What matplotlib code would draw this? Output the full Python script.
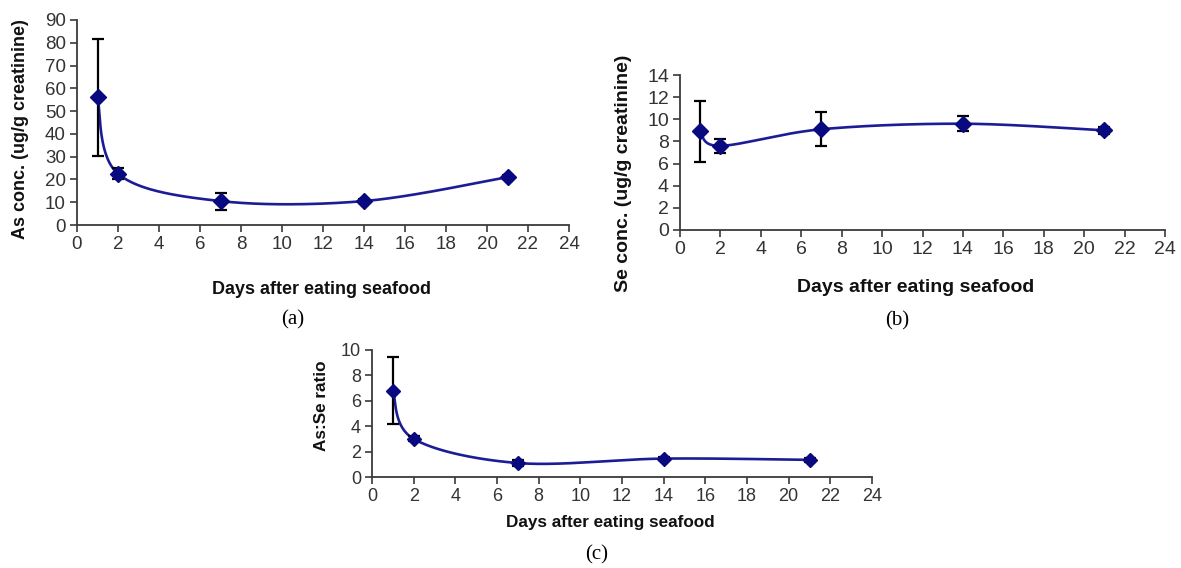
import numpy as np
import matplotlib
matplotlib.use("Agg")
import matplotlib.pyplot as plt

# data
days = [1, 2, 7, 14, 21]

as_conc = [56.0, 22.5, 10.5, 10.5, 21.0]
as_err = [25.5, 2.5, 3.7, 1.0, 1.0]

se_conc = [8.9, 7.6, 9.1, 9.6, 9.0]
se_err = [2.75, 0.6, 1.55, 0.7, 0.3]

ratio = [6.8, 3.0, 1.1, 1.45, 1.35]
ratio_err = [2.65, 0.2, 0.2, 0.15, 0.15]

xticks = list(range(0, 25, 2))

line_col = '#1c1c96'
mark_col = '#0a0a80'
axis_col = '#3a3a3a'
tick_col = '#333333'

W, H = 1181.0, 568.0


def excel_smooth(x, y, n=60):
    # bezier segments like Excel's "smoothed line"
    p = np.column_stack([x, y]).astype(float)
    out = []
    for i in range(len(p) - 1):
        p0 = p[i - 1] if i > 0 else p[i]
        p1 = p[i]
        p2 = p[i + 1]
        p3 = p[i + 2] if i + 2 < len(p) else p[i + 1]
        c1 = p1 + (p2 - p0) / 6.0
        c2 = p2 - (p3 - p1) / 6.0
        t = np.linspace(0, 1, n)[:, None]
        seg = ((1 - t) ** 3) * p1 + 3 * ((1 - t) ** 2) * t * c1 + 3 * (1 - t) * t ** 2 * c2 + t ** 3 * p2
        out.append(seg)
    out = np.vstack(out)
    return out[:, 0], out[:, 1]


def rect(l, r, t, b):
    return [l / W, (H - b) / H, (r - l) / W, (b - t) / H]


def panel(box, y, err, ymax, ystep, ylabel, fs, lfs, ms, xlab_pos, ylab_pos):
    ax = fig.add_axes(rect(*box))
    sx, sy = excel_smooth(days, y)
    ax.plot(sx, sy, color=line_col, lw=1.9, zorder=2)
    ax.errorbar(days, y, yerr=err, fmt='none', ecolor='black', elinewidth=1.6,
                capsize=4.5, capthick=1.6, zorder=3)
    ax.plot(days, y, 'D', color=mark_col, ms=ms, zorder=4)
    ax.set_xlim(0, 24)
    ax.set_ylim(0, ymax)
    ax.set_xticks(xticks)
    ax.set_yticks(np.arange(0, ymax + 0.01, ystep))
    for s in ['top', 'right']:
        ax.spines[s].set_visible(False)
    for s in ['left', 'bottom']:
        ax.spines[s].set_color(axis_col)
        ax.spines[s].set_linewidth(1.3)
    ax.tick_params(direction='out', length=5, width=1.2, color=axis_col,
                   labelsize=fs, labelcolor=tick_col, pad=3)
    ax.set_xlabel('Days after eating seafood', fontsize=lfs, fontweight='bold',
                  color='#111111', va='center')
    ax.set_ylabel(ylabel, fontsize=lfs, fontweight='bold', color='#111111',
                  va='center')
    ax.xaxis.set_label_coords(xlab_pos[0] / W, 1 - xlab_pos[1] / H,
                              transform=fig.transFigure)
    ax.yaxis.set_label_coords(ylab_pos[0] / W, 1 - ylab_pos[1] / H,
                              transform=fig.transFigure)
    return ax


plt.rcParams['font.family'] = ['Liberation Sans', 'DejaVu Sans']

fig = plt.figure(figsize=(11.81, 5.68), dpi=100)

ax1 = panel((77, 569, 20, 225), as_conc, as_err, 90, 10,
            'As conc. (ug/g creatinine)', 13.5, 13, 8.5, (321, 290), (21, 129))

ax2 = panel((680, 1165, 75, 230), se_conc, se_err, 14, 2,
            'Se conc. (ug/g creatinine)', 14, 14, 8.5, (916, 287), (623, 173))

ax3 = panel((372, 872, 350, 477), ratio, ratio_err, 10, 2,
            'As:Se ratio', 13, 12.3, 7.5, (610, 522), (322, 406))

serif = ['Liberation Serif', 'DejaVu Serif']
fig.text(293 / W, 1 - 320 / H, '(a)', ha='center', va='center', fontsize=15, family=serif)
fig.text(897 / W, 1 - 321 / H, '(b)', ha='center', va='center', fontsize=15, family=serif)
fig.text(597 / W, 1 - 555 / H, '(c)', ha='center', va='center', fontsize=15, family=serif)

fig.savefig('out.png', dpi=100)
